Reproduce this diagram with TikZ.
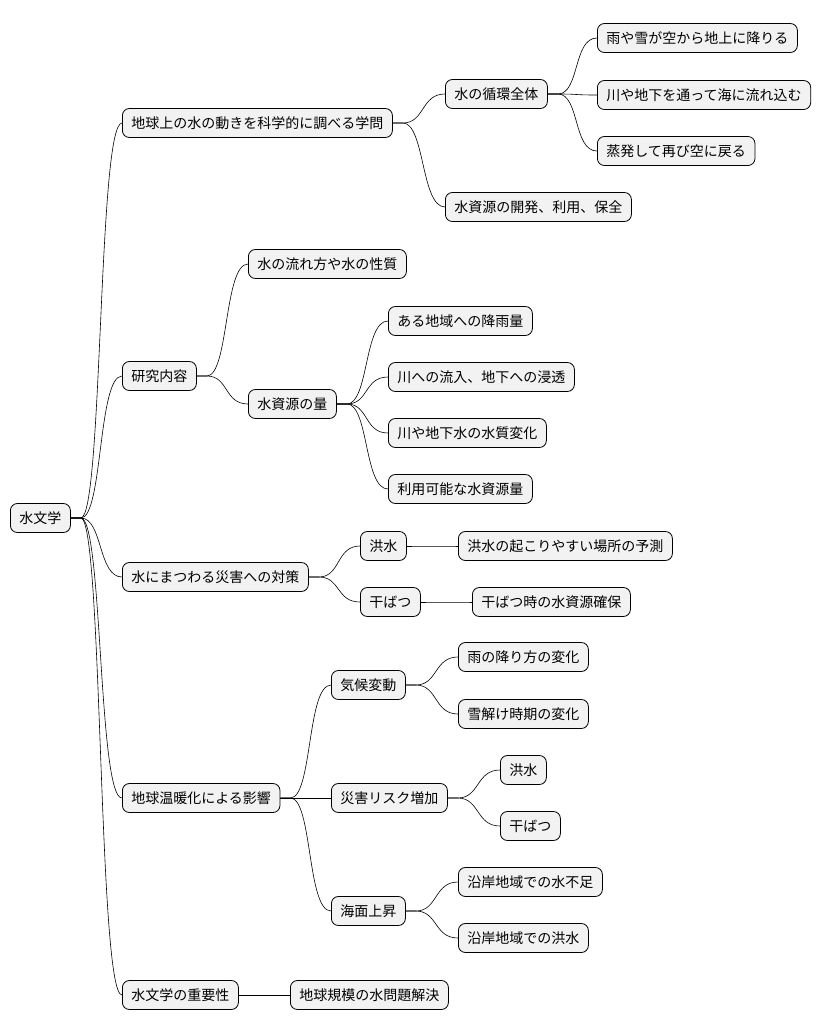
\documentclass[tikz,border=0pt]{standalone}
\usepackage{fontspec}
\newfontfamily\jpfont{Noto Sans CJK JP}
\tikzset{
  topic/.style={draw=black,line width=0.8pt,fill=gray!10,rounded corners=7pt,
    anchor=west,minimum height=29pt,inner xsep=9pt,font=\jpfont\fontsize{14}{16}\selectfont},
  conn/.style={line width=0.6pt}
}
\newcommand{\link}[2]{\draw[conn] (#1.east) -- ++(10,0) .. controls +(22,0) and +(-24,0) .. (#2.west);}
\begin{document}
\begin{tikzpicture}[x=1pt,y=-1pt,line join=round]
  \useasboundingbox (0,0) rectangle (824,1034);
  % root
  \node[topic] (root) at (10,518) {水文学};
  % first level
  \node[topic] (study) at (122,123) {地球上の水の動きを科学的に調べる学問};
  \node[topic] (res) at (122,376) {研究内容};
  \node[topic] (dis) at (122,577) {水にまつわる災害への対策};
  \node[topic] (warm) at (122,798) {地球温暖化による影響};
  \node[topic] (imp) at (122,995) {水文学の重要性};
  % study
  \node[topic] (cyc) at (445,94) {水の循環全体};
  \node[topic] (cyca) at (597,38) {雨や雪が空から地上に降りる};
  \node[topic] (cycb) at (597,95) {川や地下を通って海に流れ込む};
  \node[topic] (cycc) at (597,151) {蒸発して再び空に戻る};
  \node[topic] (dev) at (445,207) {水資源の開発、利用、保全};
  % research
  \node[topic] (flow) at (248,264) {水の流れ方や水の性質};
  \node[topic] (amt) at (248,404) {水資源の量};
  \node[topic] (amta) at (388,321) {ある地域への降雨量};
  \node[topic] (amtb) at (388,377) {川への流入、地下への浸透};
  \node[topic] (amtc) at (388,433) {川や地下水の水質変化};
  \node[topic] (amtd) at (388,489) {利用可能な水資源量};
  % disasters
  \node[topic] (fl) at (360,546) {洪水};
  \node[topic] (fla) at (458,546) {洪水の起こりやすい場所の予測};
  \node[topic] (dr) at (360,602) {干ばつ};
  \node[topic] (dra) at (472,602) {干ばつ時の水資源確保};
  % warming
  \node[topic] (clim) at (331,685) {気候変動};
  \node[topic] (clima) at (458,657) {雨の降り方の変化};
  \node[topic] (climb) at (458,714) {雪解け時期の変化};
  \node[topic] (risk) at (331,798) {災害リスク増加};
  \node[topic] (riska) at (500,770) {洪水};
  \node[topic] (riskb) at (500,826) {干ばつ};
  \node[topic] (sea) at (331,911) {海面上昇};
  \node[topic] (seaa) at (458,882) {沿岸地域での水不足};
  \node[topic] (seab) at (458,938) {沿岸地域での洪水};
  % importance
  \node[topic] (glob) at (290,995) {地球規模の水問題解決};

  \foreach \c in {study,res,dis,warm,imp} {\link{root}{\c}}
  \foreach \c in {cyc,dev} {\link{study}{\c}}
  \foreach \c in {cyca,cycb,cycc} {\link{cyc}{\c}}
  \foreach \c in {flow,amt} {\link{res}{\c}}
  \foreach \c in {amta,amtb,amtc,amtd} {\link{amt}{\c}}
  \foreach \c in {fl,dr} {\link{dis}{\c}}
  \link{fl}{fla}
  \link{dr}{dra}
  \foreach \c in {clim,risk,sea} {\link{warm}{\c}}
  \foreach \c in {clima,climb} {\link{clim}{\c}}
  \foreach \c in {riska,riskb} {\link{risk}{\c}}
  \foreach \c in {seaa,seab} {\link{sea}{\c}}
  \link{imp}{glob}
\end{tikzpicture}
\end{document}
